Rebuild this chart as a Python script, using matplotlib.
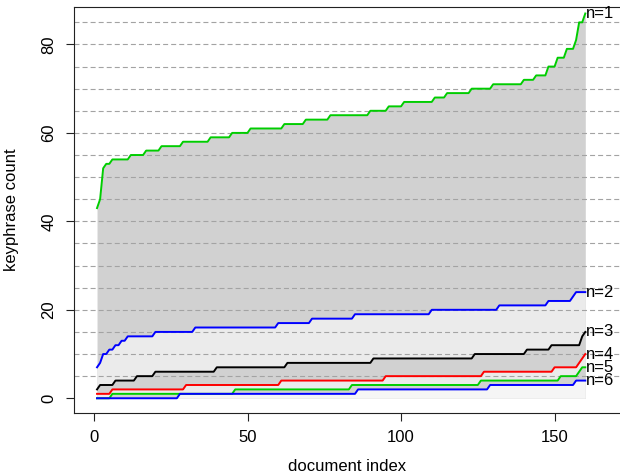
"""
Число ключевых фраз по документам (n = 1..6)
"""
import numpy as np
import matplotlib
matplotlib.use('Agg')
import matplotlib.pyplot as plt

# номера документов
doc_index = np.arange(1, 161)

# ступенчатые ряды: значения и длины серий (в сумме 160 документов)
n1_vals = [43, 45, 52, 53, 54, 55, 56, 57, 58, 59, 60, 61, 62, 63, 64,
           65, 66, 67, 68, 69, 70, 71, 72, 73, 75, 77, 79, 81, 85, 87]
n1_runs = [1, 1, 1, 2, 6, 5, 5, 7, 9, 7, 6, 11, 7, 8, 13,
           6, 5, 10, 4, 8, 7, 10, 4, 4, 3, 3, 3, 1, 2, 1]

n2_vals = [7, 8, 10, 11, 12, 13, 14, 15, 16, 17, 18, 19, 20, 21, 22, 23, 24]
n2_runs = [1, 1, 2, 2, 2, 2, 9, 13, 27, 11, 14, 25, 22, 16, 8, 1, 4]

n3_vals = [2, 3, 4, 5, 6, 7, 8, 9, 10, 11, 12, 14, 15]
n3_runs = [1, 5, 7, 6, 20, 23, 28, 33, 17, 8, 10, 1, 1]

n4_vals = [1, 2, 3, 4, 5, 6, 7, 8, 9, 10]
n4_runs = [5, 24, 31, 34, 32, 23, 8, 1, 1, 1]

n5_vals = [0, 1, 2, 3, 4, 5, 6, 7]
n5_runs = [5, 40, 38, 42, 26, 6, 1, 2]

n6_vals = [0, 1, 2, 3, 4]
n6_runs = [27, 58, 43, 28, 4]

labels = ['n=1', 'n=2', 'n=3', 'n=4', 'n=5', 'n=6']
line_colors = ['#00cd00', '#0000ff', '#000000', '#ff0000', '#00cd00', '#0000ff']
fill_colors = ['#d1d1d1', '#ebebeb', '#d1d1d1', '#ebebeb', '#d1d1d1', '#f5f5f5']

grid_levels = list(range(5, 90, 5))
x_ticks = [0, 50, 100, 150]
y_ticks = [0, 20, 40, 60, 80]

series = [
    np.repeat(n1_vals, n1_runs),
    np.repeat(n2_vals, n2_runs),
    np.repeat(n3_vals, n3_runs),
    np.repeat(n4_vals, n4_runs),
    np.repeat(n5_vals, n5_runs),
    np.repeat(n6_vals, n6_runs),
]

plt.rcParams['font.family'] = ['Liberation Sans', 'DejaVu Sans']
plt.rcParams['font.size'] = 12
plt.rcParams['lines.scale_dashes'] = False

fig = plt.figure(figsize=(6.2, 4.75), dpi=100)
ax = fig.add_axes([74 / 620, 61.7 / 475, 546 / 620, 406 / 475])

# заливки под кривыми, от верхней к нижней
for y, fc in zip(series, fill_colors):
    ax.fill_between(doc_index, y, 0, color=fc, linewidth=0, zorder=1)

# пунктирные горизонтальные линии
for lvl in grid_levels:
    ax.axhline(lvl, color='#a3a3a3', linewidth=0.8, dashes=(3.6, 2.2), zorder=2)

# сами кривые и подписи у правого края
for y, col, lab in zip(series, line_colors, labels):
    ax.plot(doc_index, y, color=col, linewidth=1.4, zorder=3)
    ax.text(doc_index[-1] + 0.3, y[-1], lab, ha='left', va='center',
            fontsize=12, zorder=4)

ax.set_xlim(-6.5, 171.3)
ax.set_ylim(-3.4, 88.4)
ax.set_xticks(x_ticks)
ax.set_yticks(y_ticks)
ax.spines['right'].set_visible(False)
for s in ['left', 'bottom', 'top']:
    ax.spines[s].set_linewidth(0.8)
    ax.spines[s].set_color('#222222')

ax.tick_params(axis='both', direction='out', length=5.8, width=0.8,
               labelsize=12, color='#222222')
ax.tick_params(axis='x', pad=6.5)
ax.tick_params(axis='y', pad=7)
for t in ax.get_yticklabels():
    t.set_rotation(90)
    t.set_va('center')

fig.text(12 / 620, (475 - 210) / 475, 'keyphrase count', rotation=90,
         ha='center', va='center', fontsize=12)
fig.text(347 / 620, (475 - 466.7) / 475, 'document index',
         ha='center', va='center', fontsize=12)

plt.savefig('out.png', dpi=100)
plt.close()
